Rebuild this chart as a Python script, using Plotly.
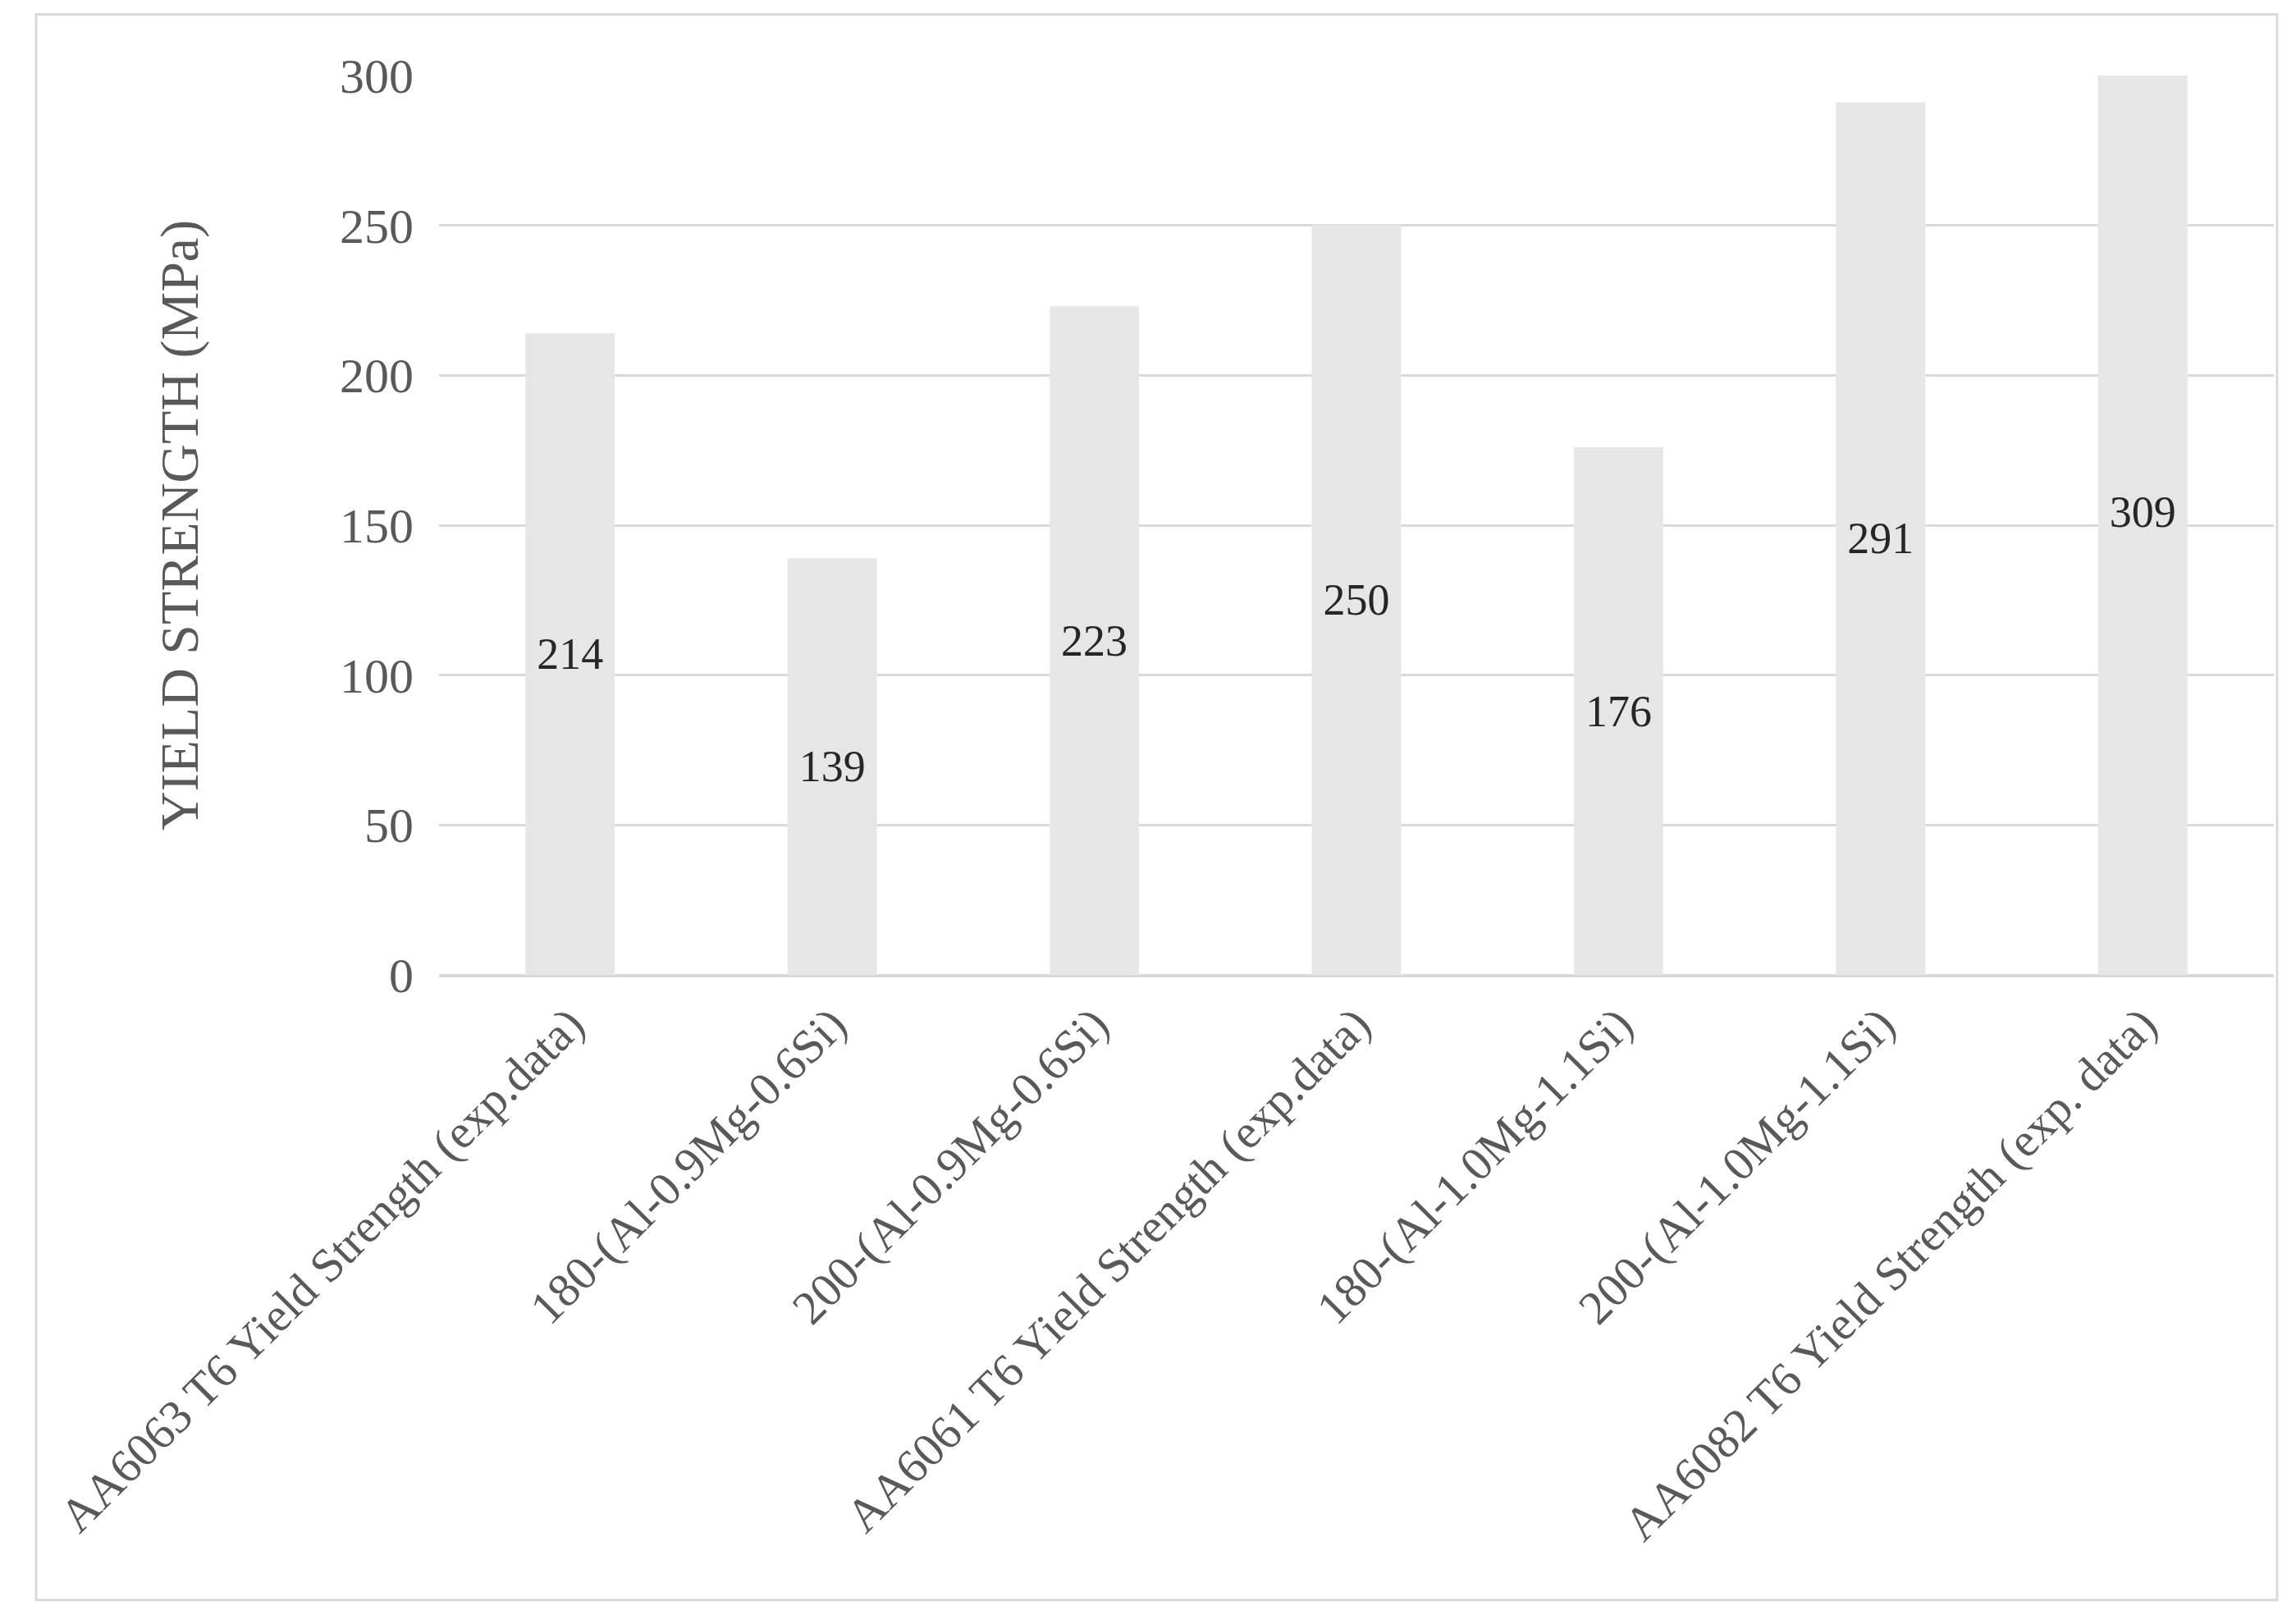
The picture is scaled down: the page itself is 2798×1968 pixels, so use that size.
import plotly.graph_objects as go

categories = [
    "AA6063 T6 Yield Strength (exp.data)",
    "180-(Al-0.9Mg-0.6Si)",
    "200-(Al-0.9Mg-0.6Si)",
    "AA6061 T6 Yield Strength (exp.data)",
    "180-(Al-1.0Mg-1.1Si)",
    "200-(Al-1.0Mg-1.1Si)",
    "AA6082 T6 Yield Strength (exp. data)",
]
values = [214, 139, 223, 250, 176, 291, 309]
y_ticks = [0, 50, 100, 150, 200, 250, 300]

font = "Liberation Serif"

fig = go.Figure(go.Bar(
    x=categories, y=values,
    marker_color="#e6e6e6",
    text=[str(v) for v in values],
    textposition="inside", insidetextanchor="middle",
    textfont=dict(family=font, size=54, color="#262626"),
    cliponaxis=True,
))

fig.update_layout(
    width=2798, height=1968,
    paper_bgcolor="white", plot_bgcolor="white",
    margin=dict(l=527, r=35, t=84, b=788),
    bargap=0.66,
    showlegend=False,
    font=dict(family=font, color="#595959"),
    yaxis=dict(
        range=[0, 300], tickvals=y_ticks,
        tickfont=dict(size=60, color="#595959"),
        gridcolor="#d9d9d9", gridwidth=3,
        zeroline=True, zerolinecolor="#d9d9d9", zerolinewidth=3,
        title=dict(text="YIELD STRENGTH (MPa)", font=dict(size=66, color="#595959"), standoff=150),
        ticks="", ticklabelstandoff=30,
    ),
    xaxis=dict(
        tickangle=-45, tickfont=dict(size=58, color="#595959"),
        showline=True, linecolor="#d9d9d9", linewidth=3,
    ),
    shapes=[dict(
        type="rect", xref="paper", yref="paper",
        x0=-0.2196, x1=1.0018, y0=-0.695, y1=1.068,
        line=dict(color="#d9d9d9", width=3),
    )],
)

fig.write_html("out.html")
